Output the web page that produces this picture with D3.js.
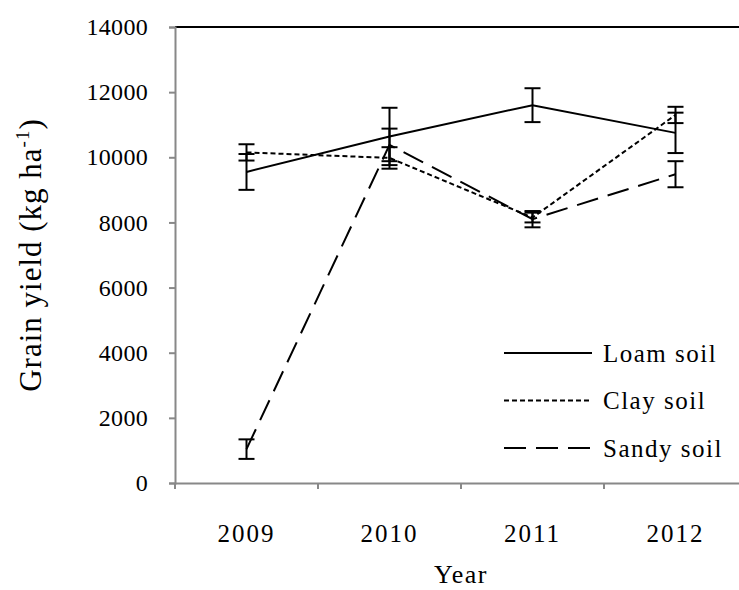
<!DOCTYPE html>
<html>
<head>
<meta charset="utf-8">
<script src="https://cdn.jsdelivr.net/npm/d3@7"></script>
<style>
  body { margin: 0; background: #fff; }
  svg text { font-family: "Liberation Serif", "Times New Roman", serif; fill: #000; }
</style>
</head>
<body>
<div id="chart"></div>
<script>
// values
const years = ['2009', '2010', '2011', '2012'];
const loam = [9550, 10640, 11600, 10750];
const loamErr = [550, 880, 520, 620];
const clay = [10150, 9980, 8150, 11300];
const clayErr = [250, 330, 150, 250];
const sandy = [1040, 10380, 8100, 9480];
const sandyErr = [300, 500, 250, 400];
const yTicks = [0, 2000, 4000, 6000, 8000, 10000, 12000, 14000];

const series = [
    {name: 'Loam soil', values: loam, err: loamErr, dash: null},
    {name: 'Clay soil', values: clay, err: clayErr, dash: '5,3'},
    {name: 'Sandy soil', values: sandy, err: sandyErr, dash: '22,10'}
];

const width = 739, height = 590;
const margin = {top: 27, left: 175, bottom: 107};

const svg = d3.select('#chart').append('svg')
    .attr('width', width)
    .attr('height', height);

const xScale = d3.scaleBand()
    .domain(years)
    .range([margin.left, margin.left + 143 * 4]);

const yScale = d3.scaleLinear()
    .domain([0, 14000])
    .range([height - margin.bottom, margin.top]);

// top border
svg.append('line')
    .attr('x1', margin.left).attr('x2', width)
    .attr('y1', yScale(14000)).attr('y2', yScale(14000))
    .attr('stroke', '#000').attr('stroke-width', 2);

// axes
const yAxis = d3.axisLeft(yScale).tickValues(yTicks).tickSize(6).tickFormat(d => d);
const gy = svg.append('g')
    .attr('transform', `translate(${margin.left},0)`)
    .call(yAxis);
gy.select('.domain').attr('stroke', '#888').attr('stroke-width', 2);
gy.selectAll('.tick line').attr('stroke', '#888').attr('stroke-width', 2);
gy.selectAll('.tick text')
    .attr('x', -27)
    .style('font-size', '24px')
    .style('letter-spacing', '0.3px');

const xAxis = d3.axisBottom(xScale).tickSize(0);
const gx = svg.append('g')
    .attr('transform', `translate(0,${yScale(0)})`)
    .call(xAxis);
gx.select('.domain').attr('stroke', '#888').attr('stroke-width', 2);
gx.selectAll('.tick text')
    .attr('y', 51)
    .attr('dy', '0.32em')
    .style('font-size', '25px')
    .style('letter-spacing', '2px');

// x ticks at band edges
svg.append('g').selectAll('line')
    .data(years)
    .join('line')
    .attr('x1', d => xScale(d)).attr('x2', d => xScale(d))
    .attr('y1', yScale(0)).attr('y2', yScale(0) + 6)
    .attr('stroke', '#888').attr('stroke-width', 2);

// axis titles
svg.append('text')
    .attr('x', margin.left + 143 * 2)
    .attr('y', 583)
    .attr('text-anchor', 'middle')
    .style('font-size', '26px')
    .style('letter-spacing', '1.5px')
    .text('Year');

const yt = svg.append('text')
    .attr('transform', `translate(41,${(yScale(0) + yScale(14000)) / 2}) rotate(-90)`)
    .attr('text-anchor', 'middle')
    .style('font-size', '31px')
    .style('letter-spacing', '1px');
yt.append('tspan').text('Grain yield (kg ha');
yt.append('tspan').attr('dy', -12).style('font-size', '19px').text('-1');
yt.append('tspan').attr('dy', 12).text(')');

// lines
const line = d3.line()
    .x((d, i) => xScale(years[i]) + xScale.bandwidth() / 2)
    .y(d => yScale(d));

const cx = i => xScale(years[i]) + xScale.bandwidth() / 2;

series.forEach(s => {
    svg.append('path')
        .datum(s.values)
        .attr('fill', 'none')
        .attr('stroke', '#000')
        .attr('stroke-width', 2)
        .attr('stroke-dasharray', s.dash)
        .attr('d', line);

    const g = svg.append('g').attr('stroke', '#000').attr('stroke-width', 2);
    s.values.forEach((v, i) => {
        const lo = yScale(v - s.err[i]), hi = yScale(v + s.err[i]);
        g.append('line').attr('x1', cx(i)).attr('x2', cx(i)).attr('y1', lo).attr('y2', hi);
        g.append('line').attr('x1', cx(i) - 8).attr('x2', cx(i) + 8).attr('y1', lo).attr('y2', lo);
        g.append('line').attr('x1', cx(i) - 8).attr('x2', cx(i) + 8).attr('y1', hi).attr('y2', hi);
    });
});

// legend
const legend = svg.append('g');
series.forEach((s, i) => {
    const y = 353 + i * 47.5;
    legend.append('line')
        .attr('x1', 504).attr('x2', 592)
        .attr('y1', y).attr('y2', y)
        .attr('stroke', '#000').attr('stroke-width', 2)
        .attr('stroke-dasharray', s.dash);
    legend.append('text')
        .attr('x', 603).attr('y', y)
        .attr('dy', '0.35em')
        .style('font-size', '25px')
        .style('letter-spacing', '1.5px')
        .text(s.name);
});
</script>
</body>
</html>
